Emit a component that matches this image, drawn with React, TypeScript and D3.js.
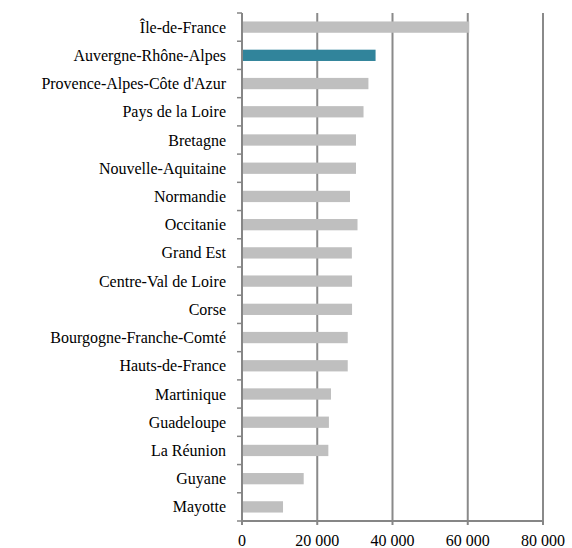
import * as d3 from "d3";

const regions = [
  "Île-de-France",
  "Auvergne-Rhône-Alpes",
  "Provence-Alpes-Côte d'Azur",
  "Pays de la Loire",
  "Bretagne",
  "Nouvelle-Aquitaine",
  "Normandie",
  "Occitanie",
  "Grand Est",
  "Centre-Val de Loire",
  "Corse",
  "Bourgogne-Franche-Comté",
  "Hauts-de-France",
  "Martinique",
  "Guadeloupe",
  "La Réunion",
  "Guyane",
  "Mayotte",
];
const values = [
  60400, 35500, 33600, 32300, 30300, 30300, 28700, 30700, 29200, 29250, 29250,
  28100, 28100, 23650, 23100, 22950, 16400, 10900,
];
const highlighted = "Auvergne-Rhône-Alpes";
const xTicks = [0, 20000, 40000, 60000, 80000];

// Liberation Serif falls back to a sans face between ~17 and ~19px in this browser,
// so stay at 16px where the serif face is used
const FONT = "Liberation Serif";
const FS = 16;
const AXIS = "#868686";

export default function App() {
  const width = 572;
  const height = 548;
  const left = 242;
  const right = 543;
  const top = 13;
  const bottom = 521;

  const x = d3.scaleLinear().domain([0, 80000]).range([left, right]);
  const band = d3.scaleBand().domain(regions).range([top, bottom]);
  const y = d3
    .scaleBand()
    .domain(regions)
    .range([top, bottom])
    .paddingInner(0.6)
    .paddingOuter(0.3);

  const fmt = (v: number) => d3.format(",")(v).replace(/,/g, " ");
  const bandTicks = regions.map((r) => band(r)!).concat([bottom]);

  return (
    <svg
      width={width}
      height={height}
      style={{ position: "absolute", left: 0, top: 0, background: "#fff" }}
    >
      {/* gridlines */}
      {xTicks.slice(1).map((t) => (
        <line key={t} x1={x(t)} x2={x(t)} y1={top} y2={bottom} stroke="#8a8a8a" strokeWidth={2} />
      ))}

      {/* bars */}
      {regions.map((r, i) => (
        <rect
          key={r}
          x={x(0)}
          y={y(r)}
          width={x(values[i]) - x(0)}
          height={y.bandwidth()}
          fill={r === highlighted ? "#31849b" : "#bfbfbf"}
        />
      ))}

      {/* y axis */}
      <line x1={x(0)} x2={x(0)} y1={top} y2={bottom + 4} stroke={AXIS} strokeWidth={2} />
      {bandTicks.map((t, i) => (
        <line key={i} x1={x(0) - 5} x2={x(0)} y1={t} y2={t} stroke={AXIS} strokeWidth={1.5} />
      ))}

      {/* x axis */}
      <line x1={x(0)} x2={x(80000)} y1={bottom} y2={bottom} stroke={AXIS} strokeWidth={2} />
      {xTicks.map((t) => (
        <line key={t} x1={x(t)} x2={x(t)} y1={bottom} y2={bottom + 4} stroke={AXIS} strokeWidth={2} />
      ))}
      {xTicks.map((t) => (
        <text
          key={t}
          x={x(t)}
          y={546}
          textAnchor="middle"
          fontFamily={FONT}
          fontSize={FS}
          fill="#000"
        >
          {fmt(t)}
        </text>
      ))}

      {/* category labels */}
      {regions.map((r) => (
        <text
          key={r}
          x={226}
          y={band(r)! + band.bandwidth() / 2 + 5.5}
          textAnchor="end"
          fontFamily={FONT}
          fontSize={FS}
          fill="#000"
        >
          {r}
        </text>
      ))}
    </svg>
  );
}
